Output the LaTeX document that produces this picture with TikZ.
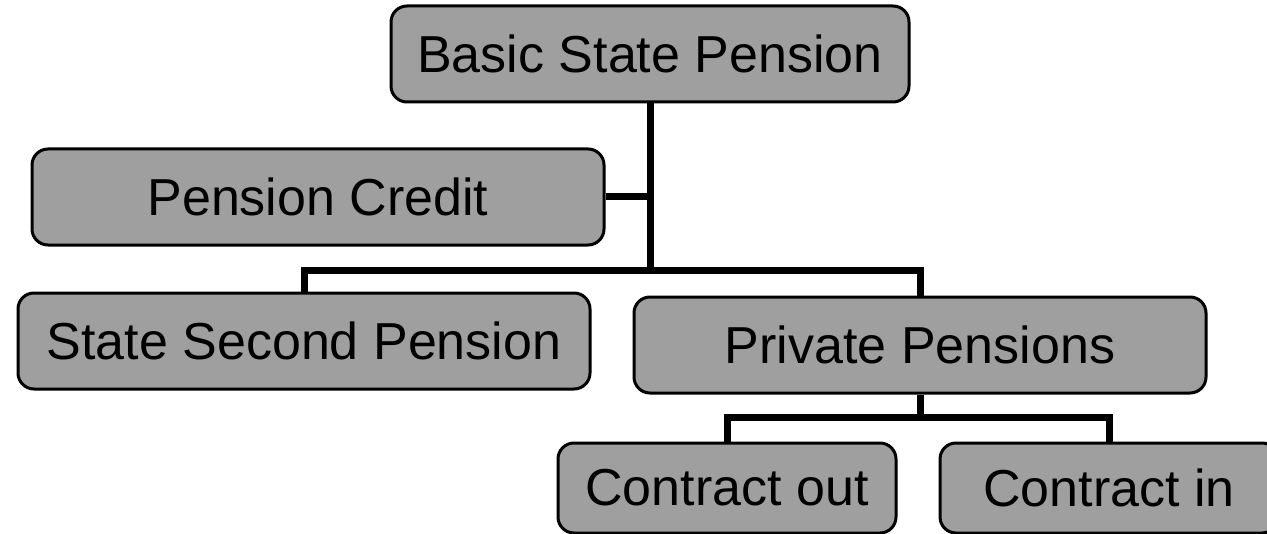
\documentclass[tikz,border=0pt]{standalone}
\usepackage{fontspec}
\setmainfont{Liberation Sans}

\begin{document}
\begin{tikzpicture}[x=0.5pt, y=-0.5pt]
        \tikzstyle{every node}=[rectangle, rounded corners=8pt, draw, line width=1.5pt, fill=gray!75, inner sep=0pt, minimum height=48pt, font=\fontsize{26}{30}\selectfont]
        \tikzstyle{link}=[line width=3.5pt]
        \useasboundingbox (0,0) rectangle (1267,534);
        \node (basic) [minimum width=259pt] at (650,54) {Basic State Pension};
        \node (credit) [minimum width=286pt] at (318,197) {Pension Credit};
        \node (second) [minimum width=286pt] at (304,341) {State Second Pension};
        \node (private) [minimum width=286pt] at (920,345) {Private Pensions};
        \node (out) [minimum width=169pt, minimum height=45pt] at (727,488) {Contract out};
        \node (in) [minimum width=169pt, minimum height=45pt] at (1109,488) {Contract in};
        \coordinate (hub) at (650,270);
        \coordinate (split) at (920,417);
        \draw[link] (basic.south) -- (hub);
        \draw[link] (credit.east) -- (credit.east -| hub);
        \draw[link] (second.north) |- (hub) -| (private.north);
        \draw[link] (private.south) -- (split);
        \draw[link] (out.north) |- (split) -| (in.north);
    \end{tikzpicture}
\end{document}
